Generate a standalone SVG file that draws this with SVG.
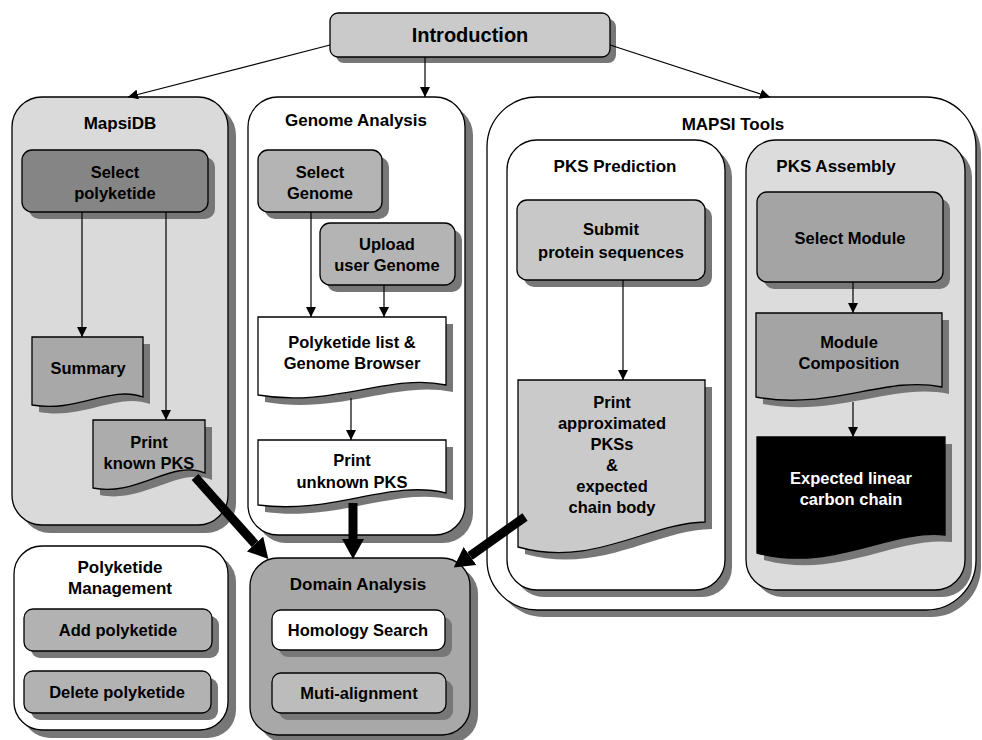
<svg xmlns="http://www.w3.org/2000/svg" width="982" height="740" viewBox="0 0 982 740">
<defs>
<marker id="ah" markerUnits="userSpaceOnUse" markerWidth="10" markerHeight="10" viewBox="0 0 10 10" refX="10" refY="5" orient="auto"><path d="M0,0 L10,5 L0,10 z" fill="#000"/></marker>
<marker id="big" markerUnits="userSpaceOnUse" markerWidth="20" markerHeight="22" viewBox="0 0 20 22" refX="0" refY="11" orient="auto"><path d="M0,0 L20,11 L0,22 z" fill="#000"/></marker>
</defs>
<style>
.t{font-family:"Liberation Sans",Arial,sans-serif;font-weight:bold;font-size:16.5px;text-anchor:middle;fill:#000}
.ttl{font-size:17px}
.w{fill:#fff}
.sh{fill:#777;stroke:none}
.bx{stroke:#000;stroke-width:1.3}
.ln{stroke:#000;stroke-width:1.2;fill:none;marker-end:url(#ah)}
.th{stroke:#000;stroke-width:9;fill:none;marker-end:url(#big)}
</style>
<rect width="982" height="740" fill="#fff"/>

<g id="introduction">
<rect class="sh" x="336" y="19" width="280" height="44" rx="8"/>
<rect class="bx" x="330" y="13" width="280" height="44" rx="8" fill="#cacaca"/>
<text class="t" x="470" y="42" style="font-size:20px">Introduction</text>
</g>

<g id="mapsidb">
<rect class="sh" x="20" y="105" width="216" height="428" rx="30"/>
<rect class="bx" x="12" y="97" width="216" height="428" rx="30" fill="#dadada"/>
<text class="t ttl" x="120" y="129">MapsiDB</text>
</g>
<g id="select-polyketide">
<rect class="sh" x="29" y="157" width="186" height="62" rx="10"/>
<rect class="bx" x="22" y="150" width="186" height="62" rx="10" fill="#858585"/>
<text class="t" x="115" y="178">Select</text>
<text class="t" x="115" y="199">polyketide</text>
</g>
<g id="summary">
<path class="sh" d="M39,344 H150 V404 C117,392 84,420 39,412 Z"/>
<path class="bx" d="M32,337 H143 V397 C110,385 77,413 32,405 Z" fill="#a8a8a8"/>
<text class="t" x="88" y="374">Summary</text>
</g>
<g id="print-known-pks">
<path class="sh" d="M100,427 H212 V480 C179,466 144,504 100,495 Z"/>
<path class="bx" d="M93,420 H205 V473 C172,459 137,497 93,488 Z" fill="#acacac"/>
<text class="t" x="149" y="448">Print</text>
<text class="t" x="149" y="469">known PKS</text>
</g>

<g id="genome-analysis">
<rect class="sh" x="256" y="105" width="217" height="438" rx="30"/>
<rect class="bx" x="248" y="97" width="217" height="438" rx="30" fill="#fff"/>
<text class="t ttl" x="356" y="126">Genome Analysis</text>
</g>
<g id="select-genome">
<rect class="sh" x="265" y="157" width="124" height="62" rx="10"/>
<rect class="bx" x="258" y="150" width="124" height="62" rx="10" fill="#b4b4b4"/>
<text class="t" x="320" y="178">Select</text>
<text class="t" x="320" y="199">Genome</text>
</g>
<g id="upload-user-genome">
<rect class="sh" x="327" y="230" width="135" height="62" rx="10"/>
<rect class="bx" x="320" y="223" width="135" height="62" rx="10" fill="#b4b4b4"/>
<text class="t" x="387" y="250">Upload</text>
<text class="t" x="387" y="271">user Genome</text>
</g>
<g id="polyketide-list">
<path class="sh" d="M265,324 H453 V392 C396,380 340,415 265,402 Z"/>
<path class="bx" d="M258,317 H446 V385 C389,373 333,408 258,395 Z" fill="#fff"/>
<text class="t" x="352" y="348">Polyketide list &amp;</text>
<text class="t" x="352" y="369">Genome Browser</text>
</g>
<g id="print-unknown-pks">
<path class="sh" d="M265,447 H453 V500 C396,486 340,522 265,512 Z"/>
<path class="bx" d="M258,440 H446 V493 C389,479 333,515 258,505 Z" fill="#fff"/>
<text class="t" x="352" y="466">Print</text>
<text class="t" x="352" y="488">unknown PKS</text>
</g>

<g id="mapsi-tools">
<rect class="sh" x="494" y="104" width="487" height="513" rx="50"/>
<rect class="bx" x="487" y="97" width="489" height="513" rx="50" fill="#fff"/>
<text class="t ttl" x="733" y="130">MAPSI Tools</text>
</g>
<g id="pks-prediction">
<rect class="sh" x="514" y="147" width="218" height="450" rx="30"/>
<rect class="bx" x="507" y="140" width="218" height="450" rx="30" fill="#fff"/>
<text class="t ttl" x="615" y="172">PKS Prediction</text>
</g>
<g id="submit-protein">
<rect class="sh" x="524" y="207" width="188" height="80" rx="10"/>
<rect class="bx" x="517" y="200" width="188" height="80" rx="10" fill="#c8c8c8"/>
<text class="t" x="611" y="235">Submit</text>
<text class="t" x="611" y="258">protein sequences</text>
</g>
<g id="print-approximated">
<path class="sh" d="M525,387 H712 V529 C655,530 600,575 525,554 Z"/>
<path class="bx" d="M518,380 H705 V522 C648,523 593,568 518,547 Z" fill="#cacaca"/>
<text class="t" x="612" y="408">Print</text>
<text class="t" x="612" y="429">approximated</text>
<text class="t" x="612" y="450">PKSs</text>
<text class="t" x="612" y="471">&amp;</text>
<text class="t" x="612" y="492">expected</text>
<text class="t" x="612" y="513">chain body</text>
</g>
<g id="pks-assembly">
<rect class="sh" x="753" y="147" width="219" height="450" rx="30"/>
<rect class="bx" x="746" y="140" width="219" height="450" rx="30" fill="#dcdcdc"/>
<text class="t ttl" x="836" y="172">PKS Assembly</text>
</g>
<g id="select-module">
<rect class="sh" x="764" y="199" width="186" height="90" rx="10"/>
<rect class="bx" x="757" y="192" width="186" height="90" rx="10" fill="#a4a4a4"/>
<text class="t" x="850" y="244">Select Module</text>
</g>
<g id="module-composition">
<path class="sh" d="M763,320 H949 V394 C893,382 837,418 763,404 Z"/>
<path class="bx" d="M756,313 H942 V387 C886,375 830,411 756,397 Z" fill="#a4a4a4"/>
<text class="t" x="849" y="348">Module</text>
<text class="t" x="849" y="369">Composition</text>
</g>
<g id="expected-chain">
<path class="sh" d="M764,444 H952 V542 C895,536 839,580 764,560 Z"/>
<path class="bx" d="M757,437 H945 V535 C888,529 832,573 757,553 Z" fill="#000"/>
<text class="t w" x="851" y="484">Expected linear</text>
<text class="t w" x="851" y="505">carbon chain</text>
</g>

<g id="polyketide-management">
<rect class="sh" x="22" y="554" width="214" height="184" rx="28"/>
<rect class="bx" x="14" y="546" width="214" height="184" rx="28" fill="#fff"/>
<text class="t ttl" x="120" y="573">Polyketide</text>
<text class="t ttl" x="120" y="594">Management</text>
</g>
<g id="add-polyketide">
<rect class="sh" x="31" y="616" width="188" height="42" rx="9"/>
<rect class="bx" x="24" y="609" width="188" height="42" rx="9" fill="#b2b2b2"/>
<text class="t" x="118" y="636">Add polyketide</text>
</g>
<g id="delete-polyketide">
<rect class="sh" x="31" y="678" width="187" height="42" rx="9"/>
<rect class="bx" x="24" y="671" width="187" height="42" rx="9" fill="#b2b2b2"/>
<text class="t" x="117" y="698">Delete polyketide</text>
</g>

<g id="domain-analysis">
<rect class="sh" x="258" y="566" width="220" height="177" rx="28"/>
<rect class="bx" x="250" y="558" width="220" height="177" rx="28" fill="#a8a8a8"/>
<text class="t ttl" x="358" y="590">Domain Analysis</text>
</g>
<g id="homology-search">
<rect class="sh" x="279" y="617" width="173" height="40" rx="9"/>
<rect class="bx" x="272" y="610" width="173" height="40" rx="9" fill="#fff"/>
<text class="t" x="358" y="636">Homology Search</text>
</g>
<g id="muti-alignment">
<rect class="sh" x="279" y="680" width="174" height="40" rx="9"/>
<rect class="bx" x="272" y="673" width="174" height="40" rx="9" fill="#bcbcbc"/>
<text class="t" x="359" y="699">Muti-alignment</text>
</g>

<g id="connectors">
<line class="ln" x1="330" y1="45" x2="128" y2="97"/>
<line class="ln" x1="425" y1="57" x2="425" y2="97"/>
<line class="ln" x1="610" y1="45" x2="770" y2="97"/>
<line class="ln" x1="82" y1="212" x2="82" y2="337"/>
<line class="ln" x1="166" y1="212" x2="166" y2="420"/>
<line class="ln" x1="311" y1="212" x2="311" y2="317"/>
<line class="ln" x1="384" y1="285" x2="384" y2="317"/>
<line class="ln" x1="351" y1="398" x2="351" y2="440"/>
<line class="ln" x1="623" y1="280" x2="623" y2="380"/>
<line class="ln" x1="853" y1="282" x2="853" y2="313"/>
<line class="ln" x1="853" y1="402" x2="853" y2="437"/>
<line class="th" x1="195" y1="477" x2="255" y2="544"/>
<line class="th" x1="353" y1="503" x2="353" y2="539"/>
<line class="th" x1="525" y1="517" x2="470" y2="556"/>
</g>
</svg>
